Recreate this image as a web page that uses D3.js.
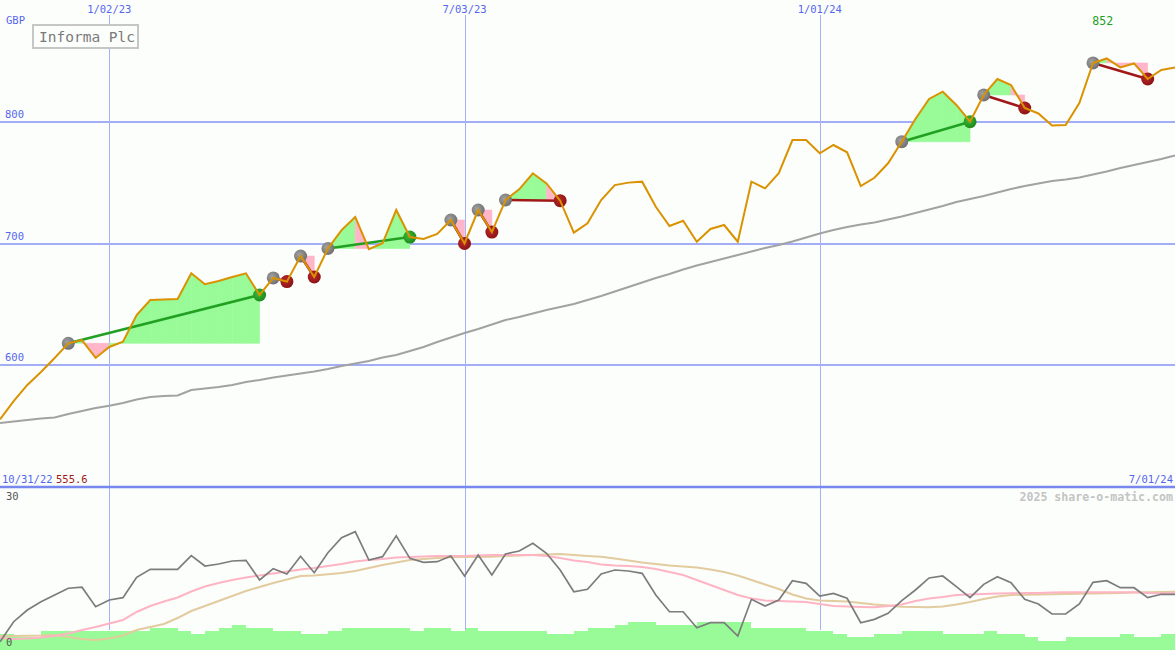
<!DOCTYPE html>
<html>
<head>
<meta charset="utf-8">
<title>Informa Plc</title>
<style>
  body { margin: 0; background: #fcfefc; }
  svg { display: block; font-family: "DejaVu Sans Mono", monospace; }
  .lbl { fill: #5566ee; font-size: 10.5px; }
</style>
</head>
<body>
<script src="https://d3js.org/d3.v7.min.js"></script>
<script>

// weekly closes, GBP (index 0 = 10/31/22, last = 7/01/24)
var prices = [555.6, 570.6, 583.8, 594.5, 606, 618, 620.7, 606, 615, 619.3,
  641.3, 653.6, 654, 654.4, 675.5, 666.5, 669.2, 672.5, 675.5, 657.7,
  671.7, 668.7, 689.7, 672.5, 695.9, 711, 721.8, 695.3, 700.2, 727.5,
  705.3, 703.7, 707.8, 719.3, 700, 727.5, 709.4, 735.7, 744.5, 757.7,
  749.4, 735.2, 708.9, 716.6, 735.7, 748, 750, 750.8, 730.2, 714.4,
  718.7, 701.5, 711.9, 715.2, 701.5, 750.8, 745.3, 757.7, 785, 785,
  774.1, 780.9, 774.9, 747.2, 754, 765.9, 783.6, 802.3, 818.7, 824.7,
  813.8, 800, 822, 835.1, 830.2, 811.3, 806.8, 797, 797.4, 815.4,
  848.3, 852, 844.6, 847.9, 835.1, 842.5, 844.6];

// long moving average
var movAvg = [552.6, 553.8, 555.0, 556.3, 557.1, 560, 562.4, 564.9, 566.8, 569,
  571.9, 573.9, 574.7, 575.2, 579.7, 580.9, 582.1, 583.8, 586.2, 587.9,
  589.9, 591.6, 593.2, 594.9, 596.9, 599.4, 601.4, 603.5, 606.4, 608.4,
  611.7, 615, 619.1, 622.8, 626.5, 629.8, 633.5, 637.2, 639.6, 642.5,
  645.4, 647.8, 650.3, 653.6, 656.9, 660.6, 664.3, 668, 671.7, 675,
  678.6, 681.9, 684.8, 687.7, 690.6, 693.4, 696.3, 698.8, 701.6, 704.9,
  708.2, 711.1, 713.6, 715.6, 717.2, 719.7, 722.2, 725, 727.9, 730.8,
  734.1, 736.6, 739, 741.9, 744.8, 747.2, 749.3, 751.3, 752.6, 754.2,
  756.7, 759.1, 762, 764.5, 766.9, 769.4, 772.3];

// trades: entry / exit week index
var tradeEntry = [5, 20, 22, 24, 33, 35, 37, 66, 72, 80];
var tradeExit  = [19, 21, 23, 30, 34, 36, 41, 71, 75, 84];

// lower panel indicator (0..30)
var indLine = [0.45, 4.4, 6.7, 8.35, 9.67, 11.0, 11.2, 7.36, 8.68, 9.14,
  13.16, 14.74, 14.74, 14.74, 17.43, 15.39, 15.79, 16.38, 16.52, 12.63,
  14.86, 13.81, 17.31, 14.07, 18.02, 20.98, 22.16, 16.58, 17.23, 21.37,
  16.91, 16.12, 16.24, 17.37, 13.42, 17.56, 13.62, 17.76, 18.35, 19.87,
  17.9, 14.6, 10.32, 10.8, 13.81, 14.6, 14.41, 13.95, 9.67, 6.37,
  6.37, 3.22, 4.2, 4.2, 1.58, 8.82, 7.5, 8.68, 12.49, 11.98,
  9.47, 10.0, 9.02, 4.2, 4.87, 6.06, 8.58, 10.66, 13.03, 13.42,
  11.31, 9.14, 11.78, 13.28, 12.1, 8.82, 7.89, 5.92, 5.92, 7.89,
  12.18, 12.49, 11.11, 11.11, 9.14, 9.81, 9.81];

var indFast = [1.18, 0.99, 1.09, 1.28, 1.58, 2.07, 2.76, 3.36, 4.05, 4.74,
  6.32, 7.5, 8.39, 9.18, 10.36, 11.35, 12.04, 12.63, 13.12, 13.52,
  13.92, 14.31, 14.7, 15.0, 15.39, 15.79, 16.28, 16.58, 16.78, 17.07,
  17.17, 17.27, 17.37, 17.37, 17.37, 17.47, 17.56, 17.56, 17.56, 17.56,
  17.37, 16.97, 16.48, 16.18, 15.69, 15.49, 15.39, 15.2, 14.8, 14.21,
  13.62, 12.63, 11.64, 10.66, 9.67, 8.98, 8.58, 8.49, 8.39, 8.29,
  7.89, 7.5, 7.4, 7.3, 7.24, 7.5, 7.8, 8.49, 8.98, 9.28,
  9.67, 9.77, 9.87, 9.97, 10.0, 10.07, 10.07, 10.16, 10.2, 10.2,
  10.2, 10.2, 10.2, 10.2, 10.07, 10.0, 10.0];

var indSlow = [1.58, 1.58, 1.64, 1.68, 1.78, 1.38, 0.99, 0.79, 1.09, 1.68,
  2.76, 3.36, 3.95, 5.13, 6.51, 7.5, 8.49, 9.47, 10.46, 11.25,
  12.04, 12.73, 13.42, 13.52, 13.76, 14.0, 14.4, 15.0, 15.6, 16.08,
  16.58, 16.78, 16.97, 17.11, 17.17, 17.17, 17.23, 17.37, 17.47, 17.56,
  17.66, 17.76, 17.56, 17.37, 17.23, 16.87, 16.48, 16.08, 15.79, 15.49,
  15.3, 15.1, 14.7, 14.21, 13.52, 12.63, 11.74, 10.85, 9.77, 8.98,
  8.58, 8.49, 8.39, 8.09, 7.8, 7.6, 7.36, 7.3, 7.24, 7.4,
  7.8, 8.29, 8.88, 9.37, 9.67, 9.73, 9.77, 9.81, 9.87, 9.93,
  9.97, 10.0, 10.07, 10.16, 10.22, 10.26, 10.32];

// volume bars (relative)
var volume = [5, 4, 4, 6, 6, 6, 6, 6, 6, 6,
  6, 7, 7, 6, 5, 6, 7, 8, 7, 7,
  6, 6, 5, 5, 6, 7, 7, 7, 7, 7,
  6, 7, 7, 6, 7, 6, 6, 6, 6, 6,
  5, 5, 6, 7, 7, 8, 9, 9, 8, 8,
  8, 9, 9, 9, 9, 7, 7, 7, 7, 6,
  6, 5, 4, 4, 5, 5, 6, 6, 6, 5,
  5, 5, 6, 5, 5, 4, 3, 3, 4, 4,
  4, 4, 5, 4, 4, 5, 5];

var priceTicks = [600, 700, 800];
var dateTickIdx = [8, 34, 60];
var dateTickLabels = ["1/02/23", "7/03/23", "1/01/24"];

var width = 1175, height = 650;
var panelBottom = 487;

var x = d3.scaleLinear().domain([0, prices.length - 1]).range([0, width]);
var y = d3.scaleLinear().domain([500, 900]).range([panelBottom, 0]);
var yInd = d3.scaleLinear().domain([0, 30]).range([644, 492]);
var yVol = d3.scaleLinear().domain([0, 10]).range([650, 618.5]);

var svg = d3.select("body").append("svg")
  .attr("width", width)
  .attr("height", height);

svg.append("rect").attr("width", width).attr("height", height).attr("fill", "#fcfefc");

var defs = svg.append("defs");
function ball(id, c1, c2) {
  var g = defs.append("radialGradient").attr("id", id).attr("cx", "40%").attr("cy", "40%").attr("r", "60%");
  g.append("stop").attr("offset", "0%").attr("stop-color", c1);
  g.append("stop").attr("offset", "100%").attr("stop-color", c2);
}
ball("ballGray", "#a2a2a2", "#707070");
ball("ballRed", "#bb2a2a", "#8c1414");
ball("ballGreen", "#3ab83a", "#1d8c1d");

// volume bars
svg.append("g").attr("shape-rendering", "crispEdges").selectAll("rect")
  .data(volume)
  .enter().append("rect")
  .attr("x", (d, i) => Math.round(x(i)))
  .attr("y", d => Math.round(yVol(d)))
  .attr("width", (d, i) => Math.round(x(i + 1)) - Math.round(x(i)))
  .attr("height", d => 650 - Math.round(yVol(d)))
  .attr("fill", "#98fb98");

// grid
var grid = svg.append("g").attr("shape-rendering", "crispEdges");
grid.selectAll("line.h")
  .data(priceTicks)
  .enter().append("line")
  .attr("x1", 0).attr("x2", width)
  .attr("y1", d => y(d)).attr("y2", d => y(d))
  .attr("stroke", "#a4aef6").attr("stroke-width", 2);
grid.selectAll("line.v")
  .data(dateTickIdx)
  .enter().append("line")
  .attr("x1", d => Math.round(x(d)) + 0.5).attr("x2", d => Math.round(x(d)) + 0.5)
  .attr("y1", 15).attr("y2", 630)
  .attr("stroke", "#a6b0f8").attr("stroke-width", 1);
svg.append("line")
  .attr("x1", 0).attr("x2", width)
  .attr("y1", panelBottom).attr("y2", panelBottom)
  .attr("stroke", "#7888ee").attr("stroke-width", 2.5);

// lower panel lines
var indLineGen = d3.line().x((d, i) => x(i)).y(d => yInd(d));
svg.append("path").datum(indSlow).attr("d", indLineGen)
  .attr("fill", "none").attr("stroke", "#e2cb9e").attr("stroke-width", 2);
svg.append("path").datum(indFast).attr("d", indLineGen)
  .attr("fill", "none").attr("stroke", "#ffb4c4").attr("stroke-width", 2);
svg.append("path").datum(indLine).attr("d", indLineGen)
  .attr("fill", "none").attr("stroke", "#7c7c7c").attr("stroke-width", 1.7);

// trade shading, segment by segment against the entry price
var shade = svg.append("g");
tradeEntry.forEach(function(e, t) {
  var entryP = prices[e];
  for (var i = e; i < tradeExit[t]; i++) {
    var pts = [[x(i), y(entryP)], [x(i), y(prices[i])], [x(i + 1), y(prices[i + 1])], [x(i + 1), y(entryP)]];
    var col = prices[i + 1] >= entryP ? "#98fb98" : "#ffb6c8";
    shade.append("path")
      .attr("d", d3.line()(pts) + "Z")
      .attr("fill", col)
      .attr("stroke", col).attr("stroke-width", 0.6);
  }
});

// moving average
var priceLine = d3.line().x((d, i) => x(i)).y(d => y(d));
svg.append("path").datum(movAvg).attr("d", priceLine)
  .attr("fill", "none").attr("stroke", "#a2a2a2").attr("stroke-width", 2);

// trade lines
tradeEntry.forEach(function(e, t) {
  var xx = tradeExit[t];
  svg.append("line")
    .attr("x1", x(e)).attr("y1", y(prices[e]))
    .attr("x2", x(xx)).attr("y2", y(prices[xx]))
    .attr("stroke", prices[xx] > prices[e] ? "#22a022" : "#a01818")
    .attr("stroke-width", 2.5);
});

// entry / exit balls
tradeEntry.forEach(function(e, t) {
  var xx = tradeExit[t];
  svg.append("circle").attr("cx", x(e)).attr("cy", y(prices[e])).attr("r", 6.5)
    .attr("fill", "url(#ballGray)");
  svg.append("circle").attr("cx", x(xx)).attr("cy", y(prices[xx])).attr("r", 6.5)
    .attr("fill", prices[xx] > prices[e] ? "url(#ballGreen)" : "url(#ballRed)");
});

// price line
svg.append("path").datum(prices).attr("d", priceLine)
  .attr("fill", "none").attr("stroke", "#da9200").attr("stroke-width", 2);

// labels
svg.append("text").attr("class", "lbl").attr("x", 6).attr("y", 24).text("GBP");
svg.selectAll("text.pt")
  .data(priceTicks)
  .enter().append("text")
  .attr("class", "lbl")
  .attr("x", 5).attr("y", d => y(d) - 4)
  .text(d => d);
svg.selectAll("text.dt")
  .data(dateTickIdx)
  .enter().append("text")
  .attr("class", "lbl")
  .attr("x", d => x(d)).attr("y", 13)
  .attr("text-anchor", "middle")
  .text((d, i) => dateTickLabels[i]);
svg.append("text").attr("class", "lbl").attr("x", 2).attr("y", 483).text("10/31/22");
svg.append("text").attr("class", "lbl").attr("x", 56).attr("y", 483)
  .style("fill", "#a01818").text(prices[0].toFixed(1));
svg.append("text").attr("class", "lbl").attr("x", 1173).attr("y", 483)
  .attr("text-anchor", "end").text("7/01/24");

var maxIdx = d3.maxIndex(prices);
svg.append("text").attr("x", x(maxIdx) - 4).attr("y", 25)
  .attr("text-anchor", "middle").attr("font-size", 11.5).attr("fill", "#22a022")
  .text(prices[maxIdx]);

svg.append("text").attr("x", 1173).attr("y", 501)
  .attr("text-anchor", "end").attr("font-size", 11.6).attr("font-weight", "bold")
  .attr("fill", "#c4c4c4").text("2025 share-o-matic.com");
svg.append("text").attr("x", 6).attr("y", 500).attr("font-size", 10.5).attr("fill", "#555").text("30");
svg.append("text").attr("x", 6).attr("y", 646).attr("font-size", 10.5).attr("fill", "#555").text("0");

// title box
svg.append("rect").attr("x", 33).attr("y", 25).attr("width", 105).attr("height", 23)
  .attr("fill", "#fcfefc").attr("stroke", "#c6c6c6").attr("stroke-width", 2);
svg.append("text").attr("x", 39).attr("y", 41.5)
  .attr("font-size", 14.5).attr("fill", "#7a7a7a").text("Informa Plc");

</script>
</body>
</html>
